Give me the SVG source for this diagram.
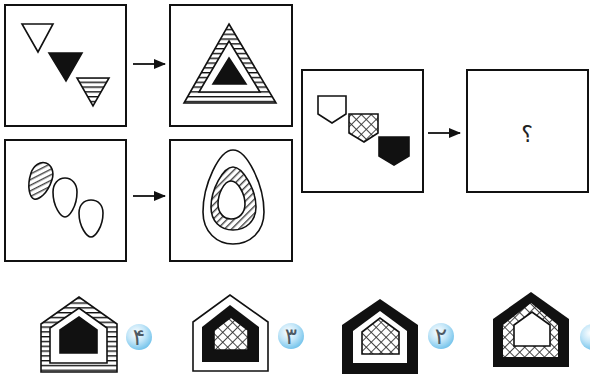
<svg xmlns="http://www.w3.org/2000/svg" width="590" height="377" viewBox="0 0 590 377">
<style>
.frame{fill:#fff;stroke:#111;stroke-width:2}
.ln{stroke:#111;stroke-width:1.6;stroke-linejoin:miter}
.conn{stroke:#111;stroke-width:1.8;fill:none}
.num{font-family:"DejaVu Sans",sans-serif;font-size:23px;fill:#4d5a64;text-anchor:middle}
</style>
<defs>
<pattern id="hstripe" patternUnits="userSpaceOnUse" width="10" height="4.8">
<rect width="10" height="4.8" fill="#fff"/>
<rect y="0" width="10" height="1.4" fill="#111"/>
</pattern>
<pattern id="diag" patternUnits="userSpaceOnUse" width="5" height="5" patternTransform="rotate(-45)">
<rect width="5" height="5" fill="#fff"/>
<rect width="5" height="1.4" fill="#444"/>
</pattern>
<pattern id="xhatch" patternUnits="userSpaceOnUse" width="7" height="7" patternTransform="rotate(45)">
<rect width="7" height="7" fill="#fff"/>
<rect width="7" height="0.9" fill="#333"/>
<rect width="0.9" height="7" fill="#333"/>
</pattern>
<radialGradient id="bub" cx="0.4" cy="0.35" r="0.7">
<stop offset="0" stop-color="#ffffff"/>
<stop offset="0.5" stop-color="#c3e6f8"/>
<stop offset="1" stop-color="#6cc0ea"/>
</radialGradient>
<marker id="ah" markerWidth="12" markerHeight="10" refX="11" refY="5" orient="auto" markerUnits="userSpaceOnUse">
<path d="M0,0 L12,5 L0,10 Z" fill="#111"/>
</marker>
</defs>

<g id="box1">
<rect class="frame" x="5" y="5" width="121" height="121"/>
<polygon class="ln" fill="#fff" points="22,24 53,24 38,52"/>
<polygon class="ln" fill="#111" points="49,53 82,53 66,81"/>
<polygon class="ln" fill="url(#hstripe)" points="77,78 109,78 93,106"/>
</g>
<g id="box2">
<rect class="frame" x="170" y="5" width="122" height="121"/>
<polygon class="ln" fill="url(#hstripe)" points="229,24 276,103 184,103"/>
<polygon class="ln" fill="#fff" points="229,41 260,92 199,92"/>
<polygon class="ln" fill="#111" points="229,58 246,84 213,84"/>
</g>
<g id="box3">
<rect class="frame" x="5" y="140" width="121" height="121"/>
<path class="ln" fill="url(#diag)" transform="rotate(18 40 181)" d="M40,200 C36,200 29,192 29,176 C29,168 34,162 40,162 C46,162 51,168 51,176 C51,192 44,200 40,200 Z"/>
<path class="ln" fill="#fff" d="M65,217 C61,217 53,207 53,192 C53,184 58,178 65,178 C72,178 77,184 77,192 C77,207 69,217 65,217 Z"/>
<path class="ln" fill="#fff" d="M91,237 C87,237 79,227 79,213 C79,205 84,200 91,200 C98,200 103,205 103,213 C103,227 95,237 91,237 Z"/>
</g>
<g id="box4">
<rect class="frame" x="170" y="140" width="122" height="121"/>
<path class="ln" fill="#fff" d="M233,150 C219,150 203,185 203,212 C203,232 217,244 233,244 C250,244 264,232 264,212 C264,185 247,150 233,150 Z"/>
<path class="ln" fill="url(#diag)" d="M233,167 C223,167 211,190 211,207 C211,221 220,230 233,230 C246,230 256,221 256,207 C256,190 243,167 233,167 Z"/>
<path class="ln" fill="#fff" d="M231,181 C224,181 218,194 218,204 C218,213 224,219 231,219 C239,219 245,213 245,204 C245,194 238,181 231,181 Z"/>
</g>
<g id="box5">
<rect class="frame" x="302" y="70" width="121" height="122"/>
<polygon class="ln" fill="#fff" points="318,96 346,96 346,114 332,123 318,114"/>
<polygon class="ln" fill="url(#xhatch)" points="349,114 378,114 378,133 364,142 349,133"/>
<polygon class="ln" fill="#111" points="379,137 409,137 409,156 394,165 379,156"/>
</g>
<g id="box6">
<rect class="frame" x="467" y="70" width="121" height="122"/>
<text x="527" y="142" font-family="DejaVu Sans, sans-serif" font-size="22" fill="#222" text-anchor="middle">؟</text>
</g>
<g id="connectors">
<line class="conn" x1="133" y1="64" x2="165" y2="64" marker-end="url(#ah)"/>
<line class="conn" x1="133" y1="196" x2="165" y2="196" marker-end="url(#ah)"/>
<line class="conn" x1="428" y1="133" x2="460" y2="133" marker-end="url(#ah)"/>
</g>

<g id="opt4">
<polygon class="ln" fill="url(#hstripe)" points="41,372 41,324 79,297 117,324 117,372"/>
<polygon class="ln" fill="#fff" points="50,363 50,328 79,308 107,328 107,363"/>
<polygon class="ln" fill="#111" points="60,353 60,330 79,317 97,330 97,353"/>
<circle cx="139" cy="337" r="13" fill="url(#bub)"/>
<text class="num" x="139" y="345">۴</text>
</g>
<g id="opt3">
<polygon class="ln" fill="#fff" points="193,371 193,322 230,295 268,322 268,371"/>
<polygon fill="#111" points="202,362 202,327 230,305 259,327 259,362"/>
<polygon class="ln" fill="url(#xhatch)" points="214,350 214,330 231,317 248,330 248,350"/>
<circle cx="291" cy="336" r="13" fill="url(#bub)"/>
<text class="num" x="291" y="344">۳</text>
</g>
<g id="opt2">
<polygon fill="#111" points="342,374 342,325 380,299 418,325 418,374"/>
<polygon fill="#fff" points="353,363 353,331 380,311 407,331 407,363"/>
<polygon class="ln" fill="url(#xhatch)" points="362,354 362,332 380,318 399,332 399,354"/>
<circle cx="441" cy="336" r="13" fill="url(#bub)"/>
<text class="num" x="441" y="344">۲</text>
</g>
<g id="opt1">
<polygon fill="#111" points="493,367 493,319 531,292 569,319 569,367"/>
<polygon fill="url(#xhatch)" points="503,357 503,325 531,303 558,325 558,357"/>
<polygon class="ln" fill="#fff" points="514,346 514,325 532,312 550,325 550,346"/>
<circle cx="593" cy="337" r="13" fill="url(#bub)"/>
</g>
</svg>
